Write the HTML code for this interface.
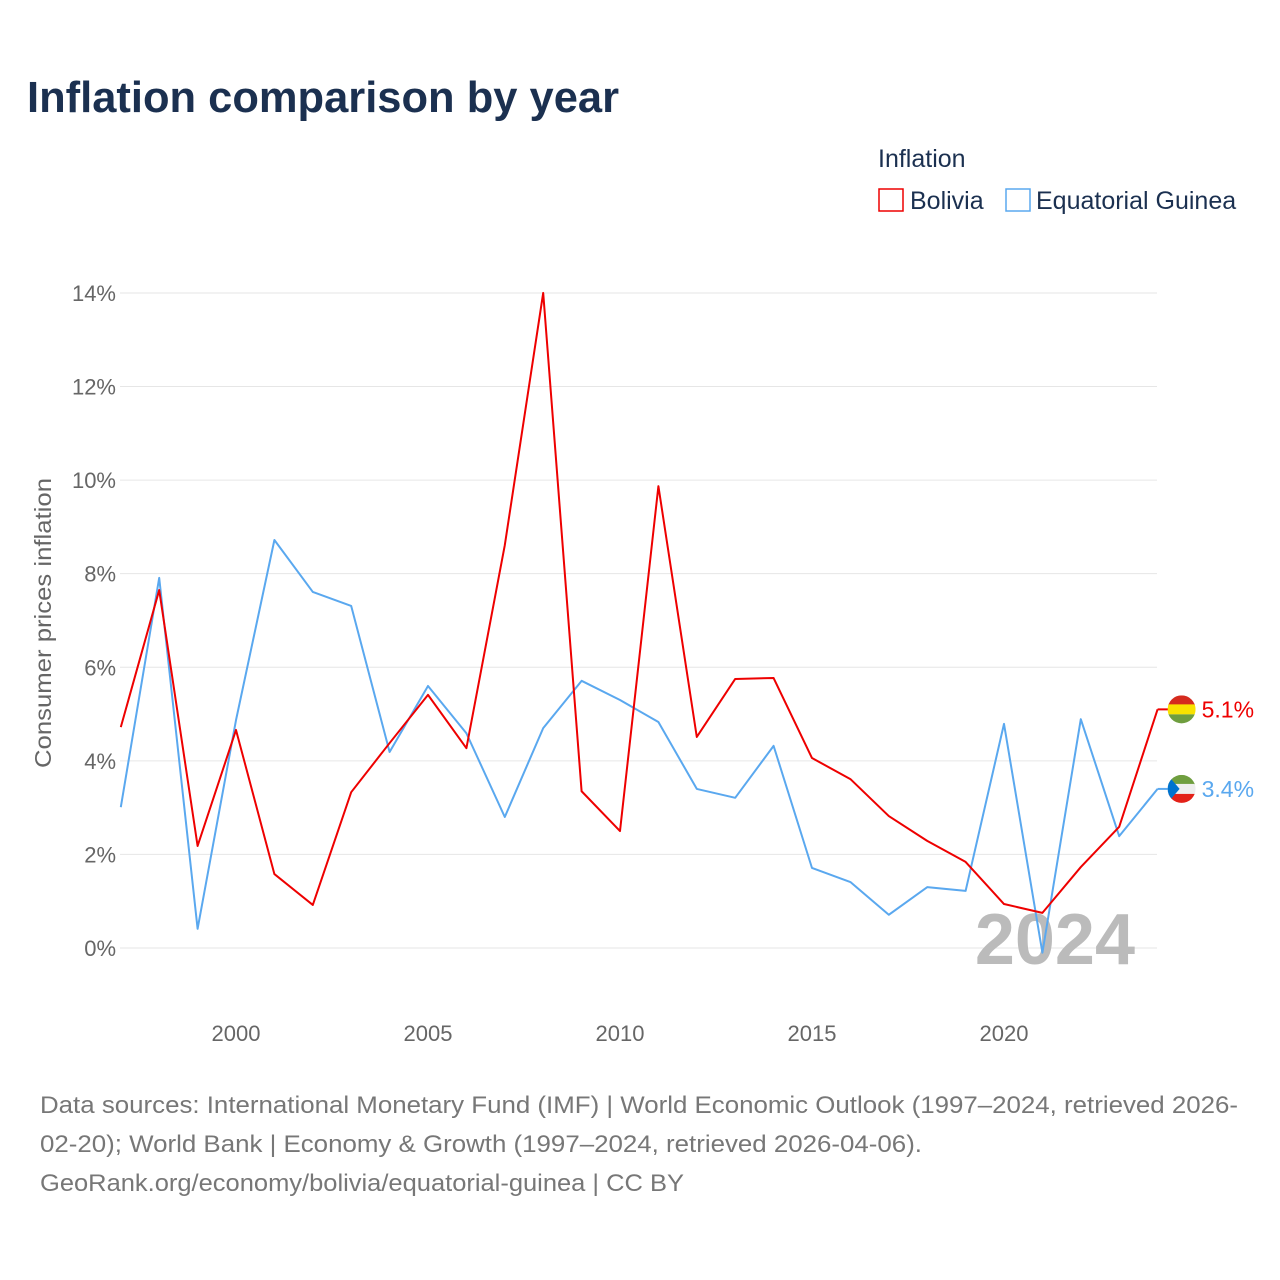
<!DOCTYPE html>
<html><head><meta charset="utf-8">
<style>
body{margin:0;background:#fff;font-family:"Liberation Sans",sans-serif;}
#wrap{position:relative;width:1280px;height:1280px;overflow:hidden;}
</style></head>
<body>
<div id="wrap">
<svg id="chart" width="1280" height="1280" xmlns="http://www.w3.org/2000/svg">
<text x="27" y="112" font-size="44" font-weight="bold" fill="#1b3050" textLength="592" lengthAdjust="spacingAndGlyphs">Inflation comparison by year</text>
<text x="878" y="167" font-size="25" fill="#1b3050">Inflation</text>
<g>
<rect x="879" y="189" width="24" height="22" fill="#fff" stroke="#ee0000" stroke-width="1.5"/>
<text x="910" y="209" font-size="25" fill="#1b3050">Bolivia</text></g>
<g>
<rect x="1006" y="189" width="24" height="22" fill="#fff" stroke="#5aa8ef" stroke-width="1.5"/>
<text x="1036" y="209" font-size="25" fill="#1b3050">Equatorial Guinea</text></g>
<g id="grid"></g><g id="yt"></g><g id="xt"></g>
<text x="1135" y="964" font-size="72" font-weight="bold" fill="#bbbbbb" text-anchor="end">2024</text>
<g id="lines"></g>
<text transform="translate(51,623) rotate(-90)" font-size="23" fill="#666" text-anchor="middle" textLength="290" lengthAdjust="spacingAndGlyphs">Consumer prices inflation</text>
<g font-size="24" fill="#777">
<text x="40" y="1113" textLength="1198" lengthAdjust="spacingAndGlyphs">Data sources: International Monetary Fund (IMF) | World Economic Outlook (1997–2024, retrieved 2026-</text>
<text x="40" y="1152" textLength="882" lengthAdjust="spacingAndGlyphs">02-20); World Bank | Economy &amp; Growth (1997–2024, retrieved 2026-04-06).</text>
<text x="40" y="1191" textLength="644" lengthAdjust="spacingAndGlyphs">GeoRank.org/economy/bolivia/equatorial-guinea | CC BY</text>
</g>
</svg>
</div>
<script>
const years=[1997,1998,1999,2000,2001,2002,2003,2004,2005,2006,2007,2008,2009,2010,2011,2012,2013,2014,2015,2016,2017,2018,2019,2020,2021,2022,2023,2024];
const bolivia=[4.72,7.65,2.18,4.66,1.58,0.92,3.33,4.38,5.41,4.27,8.61,14.0,3.35,2.50,9.87,4.51,5.75,5.77,4.06,3.61,2.82,2.29,1.84,0.94,0.75,1.73,2.59,5.1];
const eqGuinea=[3.01,7.91,0.41,4.87,8.72,7.61,7.31,4.19,5.6,4.59,2.8,4.7,5.71,5.3,4.83,3.4,3.21,4.32,1.71,1.41,0.71,1.30,1.22,4.79,-0.1,4.89,2.39,3.4];
const yTicks=[0,2,4,6,8,10,12,14];
const xTicks=[2000,2005,2010,2015,2020];
const NS="http://www.w3.org/2000/svg";
const xs=v=>120.8+(v-1997)*38.4;
const ys=v=>948-v*46.79;
function mk(t,a,p){const e=document.createElementNS(NS,t);for(const k in a)e.setAttribute(k,a[k]);p.appendChild(e);return e;}
const grid=document.getElementById('grid'),yt=document.getElementById('yt'),xt=document.getElementById('xt'),lines=document.getElementById('lines');
yTicks.forEach(t=>{
 const l=mk('line',{x1:120,x2:1157,y1:ys(t),y2:ys(t),stroke:'#e6e6e6','stroke-width':1},grid);
 
 
 const tx=mk('text',{x:116,y:ys(t)+8,'font-size':22,fill:'#666','text-anchor':'end'},yt);
 tx.textContent=t+'%';
 
 
});
xTicks.forEach(t=>{
 const tx=mk('text',{x:xs(t),y:1041,'font-size':22,fill:'#666','text-anchor':'middle'},xt);
 tx.textContent=t;
 
 
});
function series(vals,color,name){
 const p=mk('polyline',{points:vals.map((v,i)=>xs(years[i])+','+ys(v)).join(' '),fill:'none',stroke:color,'stroke-width':2,'stroke-linejoin':'round'},lines);
 
 
}
series(eqGuinea,'#5aa8ef','line-equatorial-guinea');
series(bolivia,'#ee0000','line-bolivia');
function endLabel(vals,color,name,flag){
 const v=vals[vals.length-1],x=xs(years[years.length-1]),y=ys(v);
 const g=mk('g',{},lines);
 
 
 mk('line',{x1:x,x2:x+12,y1:y,y2:y,stroke:color,'stroke-width':2},g);
 const cx=x+24;
 const cid='c'+name;
 const cp=mk('clipPath',{id:cid},g);mk('circle',{cx:cx,cy:y,r:14},cp);
 const fg=mk('g',{'clip-path':'url(#'+cid+')'},g);
 if(flag==='bo'){
  mk('rect',{x:cx-14,y:y-14,width:28,height:10,fill:'#d52b1e'},fg);
  mk('rect',{x:cx-14,y:y-5,width:28,height:10,fill:'#f9e300'},fg);
  mk('rect',{x:cx-14,y:y+5,width:28,height:10,fill:'#6f9e3f'},fg);
 }else{
  mk('rect',{x:cx-14,y:y-14,width:28,height:10,fill:'#6f9e3f'},fg);
  mk('rect',{x:cx-14,y:y-5,width:28,height:10,fill:'#eeeeee'},fg);
  mk('rect',{x:cx-14,y:y+5,width:28,height:10,fill:'#e32118'},fg);
  mk('polygon',{points:(cx-14)+','+(y-14)+' '+(cx-2)+','+y+' '+(cx-14)+','+(y+14),fill:'#0073ce'},fg);
 }
 const t=mk('text',{x:cx+20,y:y+8,'font-size':23,fill:color},g);
 t.textContent=v.toFixed(1)+'%';
}
endLabel(bolivia,'#ee0000','end-label-bolivia','bo');
endLabel(eqGuinea,'#5aa8ef','end-label-equatorial-guinea','gq');
</script>
</body></html>
